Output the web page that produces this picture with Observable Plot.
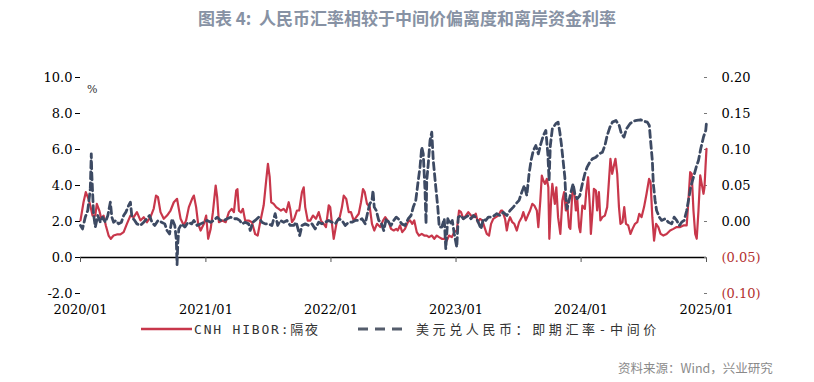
<!DOCTYPE html>
<html><head><meta charset="utf-8">
<script src="https://cdn.jsdelivr.net/npm/d3@7"></script>
<script src="https://cdn.jsdelivr.net/npm/@observablehq/plot@0.6"></script>
<style>
body{margin:0;background:#fff;}
#wrap{position:relative;width:814px;height:382px;overflow:hidden;background:#fff;}
#chart{position:absolute;left:0;top:0;}
.title{position:absolute;left:0;top:5px;width:814px;text-align:center;font:bold 17px "Noto Sans CJK SC",sans-serif;color:#8792a4;white-space:pre;}
.unit{position:absolute;left:87px;top:83px;font:11px "DejaVu Serif",serif;color:#333;}
.lg{position:absolute;top:319px;font:13px "DejaVu Sans Mono","Noto Sans CJK SC",monospace;color:#333;white-space:pre;}
.src{position:absolute;left:618px;top:358px;font:12.5px "Noto Sans CJK SC",sans-serif;color:#8a8a8a;}
</style></head>
<body><div id="wrap">
<div id="chart"></div>
<div class="title">图表 4:  人民币汇率相较于中间价偏离度和离岸资金利率</div>
<div class="unit">%</div>
<svg style="position:absolute;left:0;top:0" width="814" height="382">
 <line x1="141" y1="329" x2="192" y2="329" stroke="#c8374b" stroke-width="2.5"/>
 <line x1="358" y1="329" x2="408" y2="329" stroke="#555d6c" stroke-width="3" stroke-dasharray="10,7"/>
</svg>
<div class="lg" style="left:194px;letter-spacing:1.8px">CNH HIBOR:隔夜</div>
<div class="lg" style="left:416px;letter-spacing:3.6px">美元兑人民币：即期汇率-中间价</div>
<div class="src">资料来源：Wind，兴业研究</div>
</div>
<script>
// CNH HIBOR overnight (%), [decimal year, value]
const hibor = [
[2020.000,2.06],[2020.024,3.07],[2020.042,3.63],[2020.064,3.26],[2020.078,2.89],[2020.096,2.33],[2020.118,2.33],[2020.130,2.98],[2020.150,2.61],[2020.166,2.15],[2020.184,2.33],[2020.202,1.78],[2020.224,1.22],[2020.242,1.04],[2020.264,1.22],[2020.290,1.28],[2020.318,1.28],[2020.344,1.41],[2020.370,1.87],[2020.398,2.33],[2020.424,2.24],[2020.450,2.52],[2020.478,2.06],[2020.504,2.24],[2020.530,1.96],[2020.558,2.24],[2020.584,2.72],[2020.602,3.44],[2020.618,3.35],[2020.638,2.52],[2020.664,2.15],[2020.690,2.33],[2020.718,2.61],[2020.744,3.07],[2020.770,3.26],[2020.784,2.70],[2020.798,2.15],[2020.824,1.78],[2020.842,2.06],[2020.864,2.80],[2020.890,3.26],[2020.904,3.44],[2020.922,2.80],[2020.938,1.87],[2020.958,1.50],[2020.984,1.87],
[2021.002,2.33],[2021.018,1.04],[2021.038,1.59],[2021.056,2.52],[2021.078,4.00],[2021.090,3.35],[2021.104,1.96],[2021.130,2.06],[2021.158,1.96],[2021.184,2.52],[2021.206,2.70],[2021.224,2.52],[2021.242,3.72],[2021.252,3.80],[2021.264,2.60],[2021.280,2.50],[2021.296,2.70],[2021.314,2.05],[2021.342,2.05],[2021.368,1.96],[2021.394,1.30],[2021.414,1.22],[2021.434,1.96],[2021.462,2.90],[2021.482,4.28],[2021.496,5.20],[2021.510,4.46],[2021.522,3.07],[2021.542,2.98],[2021.562,2.80],[2021.582,2.70],[2021.600,2.61],[2021.622,2.70],[2021.642,2.52],[2021.662,3.07],[2021.674,2.70],[2021.688,1.96],[2021.706,2.15],[2021.728,2.61],[2021.746,2.61],[2021.768,3.63],[2021.782,3.90],[2021.794,2.80],[2021.814,2.05],[2021.834,2.05],[2021.856,2.33],[2021.880,2.15],[2021.902,2.52],[2021.920,2.05],[2021.942,1.87],[2021.960,1.69],[2021.982,2.90],[2021.994,2.80],
[2022.008,1.87],[2022.022,1.04],[2022.034,1.50],[2022.048,2.05],[2022.070,2.24],[2022.088,2.80],[2022.102,3.44],[2022.122,3.26],[2022.142,2.52],[2022.160,2.52],[2022.182,2.05],[2022.202,2.24],[2022.222,2.43],[2022.240,3.07],[2022.256,3.80],[2022.270,3.63],[2022.288,2.98],[2022.310,2.80],[2022.328,1.87],[2022.346,1.50],[2022.368,1.87],[2022.394,1.69],[2022.416,2.05],[2022.434,2.24],[2022.462,1.96],[2022.480,1.59],[2022.502,1.50],[2022.522,1.59],[2022.534,1.50],[2022.552,1.78],[2022.570,1.41],[2022.592,1.59],[2022.614,1.96],[2022.632,2.06],[2022.650,1.87],[2022.666,2.06],[2022.686,1.41],[2022.704,1.22],[2022.726,1.31],[2022.746,1.22],[2022.766,1.22],[2022.784,1.13],[2022.806,1.22],[2022.826,1.04],[2022.846,1.22],[2022.864,1.13],[2022.886,1.04],[2022.906,1.04],[2022.926,0.94],[2022.944,1.22],[2022.966,1.13],[2022.986,1.41],
[2023.006,1.50],[2023.024,2.61],[2023.040,2.52],[2023.058,2.15],[2023.078,2.33],[2023.098,2.52],[2023.120,2.33],[2023.138,2.24],[2023.158,2.43],[2023.174,1.96],[2023.192,2.15],[2023.210,2.06],[2023.232,1.59],[2023.246,1.31],[2023.264,1.22],[2023.280,1.87],[2023.298,2.15],[2023.318,2.24],[2023.338,2.33],[2023.360,2.61],[2023.370,2.61],[2023.392,2.15],[2023.406,1.50],[2023.418,1.96],[2023.432,2.24],[2023.450,1.96],[2023.466,1.87],[2023.486,1.50],[2023.504,1.96],[2023.526,2.24],[2023.538,2.52],[2023.558,2.06],[2023.574,2.33],[2023.592,2.61],[2023.610,2.98],[2023.626,2.89],[2023.646,2.61],[2023.658,1.69],[2023.674,3.17],[2023.686,4.55],[2023.698,4.28],[2023.712,4.09],[2023.726,4.37],[2023.738,3.90],[2023.746,1.04],[2023.760,3.17],[2023.770,4.09],[2023.790,2.98],[2023.802,3.90],[2023.816,2.24],[2023.834,1.31],[2023.850,3.17],[2023.864,3.63],[2023.878,2.61],[2023.888,3.07],[2023.904,1.69],[2023.914,1.59],[2023.930,3.63],[2023.942,3.90],[2023.958,2.61],[2023.970,3.17],[2023.984,1.69],[2023.994,1.41],
[2024.010,2.89],[2024.030,2.70],[2024.042,3.72],[2024.056,4.46],[2024.070,2.80],[2024.078,1.31],[2024.090,2.43],[2024.102,3.81],[2024.118,3.72],[2024.128,2.61],[2024.142,3.63],[2024.154,2.06],[2024.170,2.24],[2024.190,2.33],[2024.208,2.80],[2024.224,4.46],[2024.234,5.48],[2024.248,4.65],[2024.262,5.11],[2024.274,5.48],[2024.288,4.65],[2024.302,2.80],[2024.314,1.87],[2024.330,1.96],[2024.344,2.80],[2024.358,1.87],[2024.376,1.78],[2024.394,1.31],[2024.410,1.59],[2024.430,1.87],[2024.448,1.96],[2024.464,2.43],[2024.482,2.24],[2024.502,2.80],[2024.522,3.54],[2024.542,4.37],[2024.554,4.19],[2024.568,2.24],[2024.582,0.94],[2024.598,1.87],[2024.616,1.69],[2024.634,1.31],[2024.656,1.22],[2024.682,1.31],[2024.710,1.50],[2024.736,1.59],[2024.762,1.69],[2024.790,1.69],[2024.816,1.78],[2024.842,1.78],[2024.856,3.17],[2024.870,4.74],[2024.882,4.65],[2024.896,2.61],[2024.910,1.31],[2024.922,1.04],[2024.936,2.61],[2024.950,4.56],[2024.962,4.09],[2024.976,3.54],[2024.984,3.90],[2024.992,5.02],[2025.000,6.04]
];
// USD/CNY spot minus central parity (CNY), [decimal year, value]
const fxDev = [
[2020.000,-0.0055],[2020.016,-0.0103],[2020.038,0.0060],[2020.058,0.0153],[2020.078,0.0453],[2020.086,0.0940],[2020.090,0.0663],[2020.104,0.0108],[2020.118,-0.0078],[2020.138,0.0083],[2020.158,-0.0010],[2020.176,0.0060],[2020.198,-0.0010],[2020.218,0.0083],[2020.238,0.0268],[2020.250,0.0060],[2020.264,-0.0010],[2020.282,0.0015],[2020.304,-0.0033],[2020.326,-0.0010],[2020.344,0.0083],[2020.362,0.0130],[2020.384,0.0223],[2020.398,0.0268],[2020.410,0.0060],[2020.432,0.0015],[2020.450,-0.0033],[2020.478,-0.0055],[2020.504,-0.0010],[2020.530,0.0038],[2020.550,0.0083],[2020.570,-0.0010],[2020.592,-0.0055],[2020.618,0.0015],[2020.646,-0.0010],[2020.672,-0.0033],[2020.690,-0.0125],[2020.710,-0.0173],[2020.730,0.0038],[2020.752,-0.0055],[2020.764,-0.0250],[2020.770,-0.0600],[2020.776,-0.0300],[2020.784,-0.0103],[2020.806,-0.0033],[2020.832,-0.0078],[2020.858,-0.0010],[2020.886,-0.0033],[2020.904,0.0015],[2020.930,-0.0055],[2020.958,-0.0033],[2020.984,-0.0010],
[2021.010,0.0015],[2021.038,-0.0010],[2021.064,0.0015],[2021.090,0.0060],[2021.118,0.0015],[2021.144,0.0015],[2021.170,0.0038],[2021.198,0.0060],[2021.224,0.0038],[2021.248,0.0038],[2021.270,0.0015],[2021.288,-0.0033],[2021.314,-0.0010],[2021.342,-0.0033],[2021.354,-0.0125],[2021.376,-0.0010],[2021.394,0.0015],[2021.422,0.0060],[2021.448,-0.0010],[2021.474,-0.0033],[2021.502,-0.0033],[2021.528,-0.0055],[2021.554,0.0108],[2021.574,-0.0055],[2021.594,0.0015],[2021.622,-0.0010],[2021.648,0.0015],[2021.674,-0.0055],[2021.702,-0.0055],[2021.722,-0.0010],[2021.750,-0.0195],[2021.768,-0.0055],[2021.794,-0.0033],[2021.822,-0.0055],[2021.848,-0.0033],[2021.874,-0.0103],[2021.902,-0.0010],[2021.928,-0.0033],[2021.954,-0.0010],[2021.982,0.0015],
[2022.008,-0.0010],[2022.034,-0.0033],[2022.062,0.0038],[2022.088,0.0015],[2022.114,-0.0055],[2022.142,-0.0010],[2022.168,-0.0010],[2022.194,0.0015],[2022.222,0.0015],[2022.248,0.0038],[2022.274,-0.0033],[2022.294,0.0130],[2022.310,0.0245],[2022.328,0.0293],[2022.336,0.0430],[2022.346,0.0200],[2022.362,0.0153],[2022.382,0.0015],[2022.400,-0.0010],[2022.422,-0.0125],[2022.442,0.0038],[2022.462,-0.0010],[2022.480,-0.0055],[2022.502,0.0015],[2022.522,0.0060],[2022.538,0.0038],[2022.566,-0.0033],[2022.592,-0.0055],[2022.618,0.0038],[2022.640,0.0083],[2022.658,0.0200],[2022.678,0.0293],[2022.698,0.0570],[2022.712,0.0755],[2022.726,0.1033],[2022.738,0.0940],[2022.752,0.0430],[2022.760,-0.0033],[2022.766,0.0570],[2022.778,0.0800],[2022.792,0.1125],[2022.806,0.1240],[2022.818,0.0848],[2022.838,0.0478],[2022.854,0.0200],[2022.866,-0.0078],[2022.886,-0.0078],[2022.906,0.0038],[2022.918,-0.0380],[2022.934,0.0038],[2022.952,-0.0033],[2022.970,0.0015],[2022.986,-0.0173],
[2023.006,-0.0358],[2023.018,0.0060],[2023.040,0.0083],[2023.058,0.0038],[2023.078,0.0060],[2023.098,0.0083],[2023.120,0.0038],[2023.138,0.0083],[2023.158,0.0060],[2023.178,-0.0010],[2023.200,-0.0103],[2023.218,0.0038],[2023.238,0.0015],[2023.258,0.0060],[2023.286,0.0060],[2023.306,0.0083],[2023.326,0.0108],[2023.352,0.0083],[2023.378,0.0130],[2023.406,0.0083],[2023.432,0.0153],[2023.458,0.0200],[2023.478,0.0245],[2023.504,0.0293],[2023.526,0.0408],[2023.546,0.0500],[2023.566,0.0360],[2023.584,0.0663],[2023.600,0.0848],[2023.618,0.0985],[2023.638,0.1055],[2023.658,0.0940],[2023.678,0.1078],[2023.698,0.1195],[2023.718,0.1265],[2023.734,0.0940],[2023.744,0.0570],[2023.754,0.1055],[2023.770,0.1288],[2023.798,0.1358],[2023.816,0.1380],[2023.830,0.1240],[2023.842,0.1078],[2023.856,0.0848],[2023.870,0.0615],[2023.878,0.0338],[2023.888,0.0175],[2023.904,0.0293],[2023.922,0.0430],[2023.936,0.0523],[2023.950,0.0385],[2023.968,0.0315],[2023.990,0.0360],
[2024.010,0.0523],[2024.030,0.0663],[2024.048,0.0755],[2024.070,0.0825],[2024.090,0.0870],[2024.118,0.0893],[2024.144,0.0940],[2024.170,0.0963],[2024.190,0.1055],[2024.208,0.1195],[2024.230,0.1310],[2024.250,0.1380],[2024.278,0.1403],[2024.304,0.1333],[2024.322,0.1218],[2024.342,0.1173],[2024.362,0.1288],[2024.390,0.1358],[2024.416,0.1393],[2024.442,0.1403],[2024.474,0.1413],[2024.502,0.1393],[2024.528,0.1380],[2024.544,0.1333],[2024.554,0.1125],[2024.568,0.0848],[2024.576,0.0523],[2024.590,0.0293],[2024.602,0.0153],[2024.624,0.0060],[2024.642,0.0015],[2024.670,0.0038],[2024.696,-0.0010],[2024.722,-0.0033],[2024.742,0.0060],[2024.762,0.0015],[2024.784,-0.0055],[2024.802,-0.0010],[2024.822,0.0015],[2024.842,0.0153],[2024.856,0.0293],[2024.874,0.0478],[2024.896,0.0615],[2024.918,0.0755],[2024.936,0.0848],[2024.954,0.1010],[2024.976,0.1173],[2024.994,0.1265],[2025.000,0.1380]
];
const leftTicks = [-2, 0, 2, 4, 6, 8, 10];
const rightTicks = [-0.10, -0.05, 0.00, 0.05, 0.10, 0.15, 0.20];
const yearTicks = ["2020-01-01","2021-01-01","2022-01-01","2023-01-01","2024-01-01","2025-01-01"];

// secondary axis: 0.20 ↔ 10.0, 0.00 ↔ 2.0
const toLeft = r => r * 40 + 2;
function decToDate(t) {
  const y = Math.floor(t + 1e-9), f = t - y;
  const a = Date.UTC(y, 0, 1), b = Date.UTC(y + 1, 0, 1);
  return new Date(a + f * (b - a));
}
const hiborData = hibor.map(([t, v]) => ({date: decToDate(t), v}));
const fxData = fxDev.map(([t, v]) => ({date: decToDate(t), v}));
const years = yearTicks.map(s => new Date(s + "T00:00:00Z"));
const fmtR = r => r < -1e-9 ? "(" + (-r).toFixed(2) + ")" : Math.abs(r).toFixed(2);
const posR = rightTicks.filter(r => r >= 0).map(toLeft);
const negR = rightTicks.filter(r => r < 0).map(toLeft);

const chart = Plot.plot({
  width: 814, height: 382,
  marginLeft: 80, marginRight: 108, marginTop: 77, marginBottom: 89,
  x: {type: "utc", domain: [years[0], years[years.length - 1]], label: null},
  y: {domain: [-2, 10], label: null},
  style: {fontFamily: "'DejaVu Serif', serif", fontSize: "13px", color: "#000", background: "transparent"},
  marks: [
    Plot.ruleY([0], {stroke: "#000", strokeWidth: 1.3}),
    Plot.axisX(years, {tickSize: 5, dy: -36, tickFormat: () => "", stroke: "#555", label: null}),
    Plot.axisX(years, {tickSize: 0, tickPadding: 11, tickFormat: d3.utcFormat("%Y/%m"), fill: "#000", label: null}),
    Plot.axisY(leftTicks, {anchor: "left", tickSize: 5, tickPadding: 3, tickFormat: d => d.toFixed(1), line: true, stroke: "#000", fill: "#000", label: null}),
    Plot.axisY(rightTicks.map(toLeft), {anchor: "right", tickSize: 3, dx: -3, tickFormat: () => "", stroke: "#777", label: null}),
    Plot.axisY(posR, {anchor: "right", tickSize: 0, tickPadding: 15, tickFormat: v => fmtR((v - 2) / 40), fill: "#000", line: true, stroke: "#888", strokeWidth: 1.5, label: null}),
    Plot.axisY(negR, {anchor: "right", tickSize: 0, tickPadding: 15, tickFormat: v => fmtR((v - 2) / 40), fill: "#b3302f", label: null}),
    Plot.line(hiborData, {x: "date", y: "v", stroke: "#c8374b", strokeWidth: 2.2}),
    Plot.line(fxData, {x: "date", y: d => toLeft(d.v), stroke: "#3d4a63", strokeWidth: 2.8, strokeDasharray: "7,4"})
  ]
});
document.getElementById("chart").appendChild(chart);
</script>
</body></html>
